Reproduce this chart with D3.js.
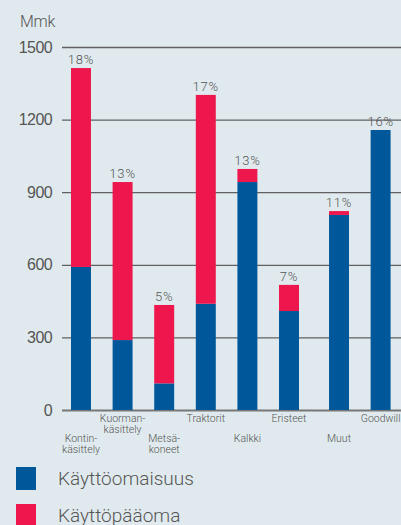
<!DOCTYPE html>
<html>
<head>
<meta charset="utf-8">
<script src="https://cdn.jsdelivr.net/npm/d3@7"></script>
<style>
  html, body { margin: 0; padding: 0; background: #e0eaee; }
  svg { display: block; font-family: Roboto, "Liberation Sans", sans-serif; font-weight: 300; }
</style>
</head>
<body>
<svg id="chart" width="401" height="525"></svg>
<script>
// Sijoitettu pääoma liiketoiminnoittain (Mmk) ja tuottoprosentit
const categories = ["Kontin-\nkäsittely", "Kuorman-\nkäsittely", "Metsä-\nkoneet", "Traktorit",
                    "Kalkki", "Eristeet", "Muut", "Goodwill"];
const kayttoomaisuus = [591, 289, 110, 439, 942, 409, 806, 1157];
const kayttopaaoma   = [822, 653, 324, 863, 54, 108, 16, 0];
const tuotto = ["18%", "13%", "5%", "17%", "13%", "7%", "11%", "16%"];
const yTicks = [0, 300, 600, 900, 1200, 1500];
const seriesNames = ["Käyttöomaisuus", "Käyttöpääoma"];
const colors = ["#00589b", "#ee174d"];

const svg = d3.select("#chart");

const y = d3.scaleLinear().domain([0, 1500]).range([410, 47]);

// Bars sit on a band scale; the last two groups are set slightly apart
const x = d3.scaleBand().domain(categories).range([71, 382.2]).paddingInner(0.52).paddingOuter(0);
const groupGap = 8.4;
const xPos = (c, i) => x(c) + (i >= 6 ? groupGap : 0);

// Gridlines with left-hand labels
const axis = d3.axisLeft(y).tickValues(yTicks).tickFormat(d3.format("d")).tickSize(0).tickPadding(10);
const gAxis = svg.append("g").attr("transform", "translate(62,0)").call(axis);
gAxis.select(".domain").remove();
gAxis.selectAll("text")
  .attr("fill", "#555")
  .attr("font-size", 16)
  .style("letter-spacing", "-0.6px");
gAxis.selectAll(".tick").append("line")
  .attr("x1", 0).attr("x2", 401 - 62)
  .attr("stroke", d => d === 0 ? "#777" : "#606060")
  .attr("stroke-width", d => d === 0 ? 2 : 1.3);

svg.append("text")
  .attr("x", 20).attr("y", 27)
  .attr("fill", "#555").attr("font-size", 16)
  .style("letter-spacing", "-0.3px")
  .text("Mmk");

// Stacked bars
const stackData = categories.map((c, i) => ({ c, i, a: kayttoomaisuus[i], b: kayttopaaoma[i] }));
const stack = d3.stack().keys(["a", "b"]);
const layers = stack(stackData);

svg.append("g").selectAll("g")
  .data(layers)
  .join("g")
  .attr("fill", (d, k) => colors[k])
  .selectAll("rect")
  .data(d => d.filter(s => s[1] > s[0]))
  .join("rect")
  .attr("x", s => xPos(s.data.c, s.data.i))
  .attr("width", x.bandwidth())
  .attr("y", s => y(s[1]))
  .attr("height", s => y(s[0]) - y(s[1]));

// Return percentages above the bars
svg.append("g").selectAll("text")
  .data(stackData)
  .join("text")
  .attr("x", d => xPos(d.c, d.i) + x.bandwidth() / 2)
  .attr("y", d => y(d.a + d.b) - 4)
  .attr("text-anchor", "middle")
  .attr("fill", "#555")
  .attr("font-size", 13)
  .style("letter-spacing", "0.8px")
  .text((d, i) => tuotto[i]);

// Category labels, alternating rows
const lbl = svg.append("g").selectAll("text")
  .data(stackData)
  .join("text")
  .attr("text-anchor", "middle")
  .attr("fill", "#555")
  .attr("font-size", 10.5)
  .attr("transform", d => `translate(${xPos(d.c, d.i) + x.bandwidth() / 2},${d.i % 2 === 0 ? 442 : 422})`);
lbl.selectAll("tspan")
  .data(d => d.c.split("\n"))
  .join("tspan")
  .attr("x", 0)
  .attr("dy", (t, j) => j === 0 ? 0 : 11)
  .text(t => t);

// Legend
const leg = svg.append("g").selectAll("g")
  .data(seriesNames)
  .join("g")
  .attr("transform", (d, k) => `translate(16,${467 + k * 37})`);
leg.append("rect").attr("width", 20).attr("height", 23).attr("fill", (d, k) => colors[k]);
leg.append("text")
  .attr("x", 42).attr("y", 18)
  .attr("fill", "#555").attr("font-size", 19)
  .text(d => d);
</script>
</body>
</html>
